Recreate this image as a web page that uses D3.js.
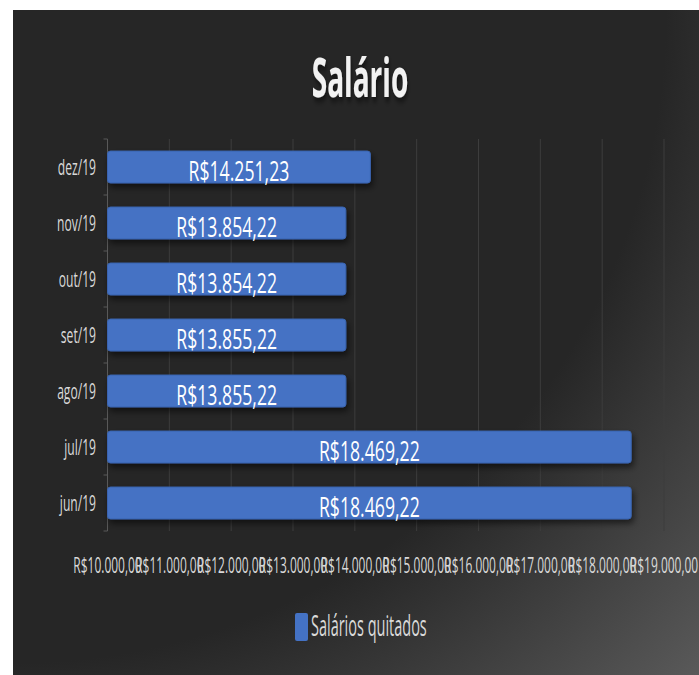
<!DOCTYPE html>
<html>
<head>
<meta charset="utf-8">
<script src="https://cdn.jsdelivr.net/npm/d3@7"></script>
<style>
  body { margin: 0; background: #fff; }
  svg { display: block; font-family: "Open Sans", sans-serif; }
</style>
</head>
<body>
<div class="chart-container"></div>
<script>
//! DATA
const months = ['jun/19', 'jul/19', 'ago/19', 'set/19', 'out/19', 'nov/19', 'dez/19']
const salarios = [18469.22, 18469.22, 13855.22, 13855.22, 13854.22, 13854.22, 14251.23]
const xTicks = [10000, 11000, 12000, 13000, 14000, 15000, 16000, 17000, 18000, 19000]
const TITLE = 'Salário'
const SERIES = 'Salários quitados'

//! CONSTS
const WIDTH = 699
const HEIGHT = 675
const LEFT = 107.5
const RIGHT = 664
const TOP = 139
const BOTTOM = 531

const dataset = months.map((m, i) => ({ month: m, value: salarios[i] }))

const locale = d3.formatLocale({ decimal: ',', thousands: '.', grouping: [3], currency: ['R$', ''] })
const money = locale.format('$,.2f')

// squeezed text, like the original picture
const squeeze = (sel, x, y, s) => sel.attr('transform', `translate(${x},${y}) scale(${s},1)`)

//! SVG
const svg = d3.select('.chart-container')
  .append('svg')
  .attr('width', WIDTH)
  .attr('height', HEIGHT)

const defs = svg.append('defs')
const grad = defs.append('radialGradient')
  .attr('id', 'bg')
  .attr('gradientUnits', 'userSpaceOnUse')
  .attr('cx', 13).attr('cy', 10).attr('r', 960)
grad.append('stop').attr('offset', '0.68').attr('stop-color', '#262626')
grad.append('stop').attr('offset', '1').attr('stop-color', '#5a5a5a')

defs.append('filter').attr('id', 'shadow')
  .attr('x', '-10%').attr('y', '-30%').attr('width', '130%').attr('height', '180%')
  .append('feDropShadow')
  .attr('dx', 2).attr('dy', 4).attr('stdDeviation', 3)
  .attr('flood-color', '#000').attr('flood-opacity', 0.55)

svg.append('rect')
  .attr('x', 13).attr('y', 10)
  .attr('width', WIDTH - 13).attr('height', HEIGHT - 10)
  .attr('fill', 'url(#bg)')

//! SCALES
const xScale = d3.scaleLinear()
  .domain([10000, 19000])
  .range([LEFT, RIGHT])

const yScale = d3.scaleBand()
  .domain(months.slice().reverse())
  .range([TOP, BOTTOM])
  .paddingInner(0.43)
  .paddingOuter(0.215)

//! GRID
svg.append('g')
  .selectAll('line')
  .data(xTicks.slice(1))
  .enter()
  .append('line')
  .attr('x1', d => xScale(d)).attr('x2', d => xScale(d))
  .attr('y1', TOP).attr('y2', BOTTOM)
  .attr('stroke', '#3d3d3d')
  .attr('stroke-width', 1)

//! Y AXIS
const yAxis = svg.append('g')
yAxis.append('line')
  .attr('x1', LEFT).attr('x2', LEFT)
  .attr('y1', TOP).attr('y2', BOTTOM)
  .attr('stroke', '#595959')
yAxis.selectAll('.tick')
  .data(d3.range(months.length + 1))
  .enter()
  .append('line')
  .attr('x1', LEFT - 4).attr('x2', LEFT)
  .attr('y1', i => TOP + i * yScale.step())
  .attr('y2', i => TOP + i * yScale.step())
  .attr('stroke', '#595959')

yAxis.selectAll('text')
  .data(months)
  .enter()
  .append('text')
  .text(d => d)
  .attr('text-anchor', 'end')
  .attr('fill', '#d9d9d9')
  .attr('font-size', 22)
  .each(function (d) {
    squeeze(d3.select(this), 96, yScale(d) + yScale.bandwidth() / 2 + 8, 0.55)
  })

//! X AXIS LABELS
svg.append('g')
  .selectAll('text')
  .data(xTicks)
  .enter()
  .append('text')
  .text(d => money(d))
  .attr('text-anchor', 'middle')
  .attr('fill', '#d9d9d9')
  .attr('font-size', 21)
  .each(function (d) {
    squeeze(d3.select(this), xScale(d), 573, 0.57)
  })

//! BARS
svg.append('g')
  .selectAll('rect')
  .data(dataset)
  .enter()
  .append('rect')
  .attr('x', xScale(10000))
  .attr('y', d => yScale(d.month))
  .attr('width', d => xScale(d.value) - xScale(10000))
  .attr('height', yScale.bandwidth())
  .attr('rx', 3)
  .attr('fill', '#4472c4')
  .attr('stroke', '#3a64b0')
  .attr('stroke-width', 1)
  .attr('filter', 'url(#shadow)')

svg.append('g')
  .selectAll('text')
  .data(dataset)
  .enter()
  .append('text')
  .text(d => money(d.value))
  .attr('text-anchor', 'middle')
  .attr('fill', '#fff')
  .attr('font-size', 28)
  .each(function (d) {
    const cx = (xScale(10000) + xScale(d.value)) / 2
    squeeze(d3.select(this), cx, yScale(d.month) + yScale.bandwidth() / 2 + 14, 0.63)
  })

//! TITLE
const title = svg.append('text')
  .text(TITLE)
  .attr('text-anchor', 'middle')
  .attr('fill', '#f2f2f2')
  .attr('font-weight', 'bold')
  .attr('font-size', 54)
  .attr('filter', 'url(#shadow)')
squeeze(title, 360, 97, 0.52)

//! LEGEND
svg.append('rect')
  .attr('x', 295).attr('y', 613)
  .attr('width', 13).attr('height', 28)
  .attr('rx', 2)
  .attr('fill', '#4472c4')
const legendText = svg.append('text')
  .text(SERIES)
  .attr('fill', '#d9d9d9')
  .attr('font-size', 29)
squeeze(legendText, 311, 636, 0.5)
</script>
</body>
</html>
